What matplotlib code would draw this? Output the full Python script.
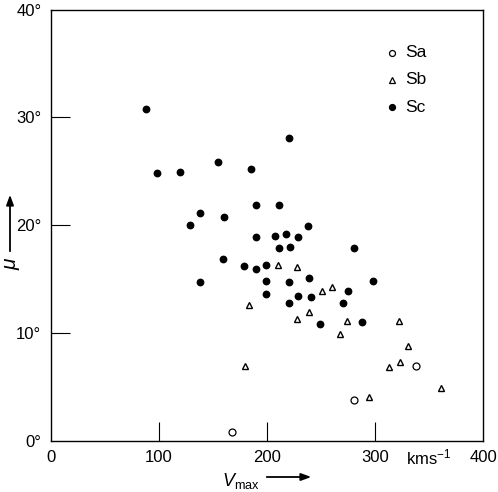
import matplotlib
matplotlib.use("Agg")
import matplotlib.pyplot as plt

plt.rcParams['font.family'] = ['Liberation Sans', 'DejaVu Sans']
plt.rcParams['mathtext.fontset'] = 'custom'
plt.rcParams['mathtext.rm'] = 'Liberation Sans'
plt.rcParams['mathtext.it'] = 'Liberation Sans:italic'

# Sa galaxies
sa_v = [168, 281, 338]
sa_mu = [0.8, 3.8, 6.9]

# Sb galaxies
sb_v = [180, 183, 210, 228, 228, 239, 251, 260, 268, 274, 294, 313, 322, 323, 331, 361]
sb_mu = [6.9, 12.6, 16.3, 16.1, 11.3, 11.9, 13.9, 14.3, 9.9, 11.1, 4.1, 6.8, 11.1, 7.3, 8.8, 4.9]

# Sc galaxies
sc_v = [88, 98, 119, 129, 138, 138, 155, 159, 160, 179, 185, 190, 190, 190,
        199, 199, 199, 207, 211, 211, 218, 220, 220, 220, 221, 229, 229, 238,
        239, 241, 249, 270, 275, 281, 288, 298]
sc_mu = [30.8, 24.8, 24.9, 20.0, 21.1, 14.7, 25.9, 16.9, 20.8, 16.2, 25.2, 21.9, 15.9, 18.9,
         16.3, 14.8, 13.6, 19.0, 21.9, 17.9, 19.2, 28.1, 14.7, 12.8, 18.0, 18.9, 13.4, 19.9,
         15.1, 13.3, 10.8, 12.8, 13.9, 17.9, 11.0, 14.8]

x_ticks = [0, 100, 200, 300, 400]
y_ticks = [0, 10, 20, 30, 40]
y_labels = ['0°', '10°', '20°', '30°', '40°']

fig = plt.figure(figsize=(4.98, 4.92), dpi=100)
ax = fig.add_axes([0.1024, 0.1043, 0.8675, 0.876])

ax.plot(sa_v, sa_mu, 'o', ms=5, mfc='white', mec='black', mew=0.9, ls='none')
ax.plot(sb_v, sb_mu, '^', ms=5, mfc='white', mec='black', mew=1.0, ls='none')
ax.plot(sc_v, sc_mu, 'o', ms=4.6, mfc='black', mec='black', ls='none')

ax.set_xlim(0, 400)
ax.set_ylim(0, 40)
ax.set_xticks(x_ticks)
ax.set_xticklabels([str(t) for t in x_ticks])
ax.set_yticks(y_ticks)
ax.set_yticklabels(y_labels)
ax.tick_params(direction='in', length=14, width=0.8, labelsize=12, pad=7)
# no visible tick marks at the ends
for t in ax.xaxis.get_major_ticks()[::4] + ax.yaxis.get_major_ticks()[::4]:
    t.tick1line.set_visible(False)
for s in ax.spines.values():
    s.set_linewidth(1.0)

# legend drawn by hand, like the original
leg = [('o', 'white', 'Sa'), ('^', 'white', 'Sb'), ('o', 'black', 'Sc')]
for i, (m, fc, lab) in enumerate(leg):
    yy = 0.9 - i * 0.063
    ax.plot([0.789], [yy], m, transform=ax.transAxes, ms=4.3, mfc=fc, mec='black',
            mew=0.9, clip_on=False)
    ax.text(0.82, yy, lab, transform=ax.transAxes, fontsize=12.5, va='center', ha='left')

# units
fig.text(406 / 498, 1 - 457 / 492, 'kms$^{-1}$', fontsize=12,
         va='center', ha='left')

# axis labels with arrows
fig.text(222 / 498, 1 - 481 / 492, r'$V_{\mathrm{max}}$', fontsize=13, ha='left', va='center')
fig.add_artist(matplotlib.patches.FancyArrowPatch(
    (264 / 498, 1 - 477 / 492), (314 / 498, 1 - 477 / 492), transform=fig.transFigure,
    arrowstyle='-|>,head_length=6,head_width=2.2', lw=1.3, color='black'))
fig.text(13 / 498, 1 - 263 / 492, r'$\mu$', fontsize=15, rotation=90, ha='center', va='center')
fig.add_artist(matplotlib.patches.FancyArrowPatch(
    (10 / 498, 1 - 254 / 492), (10 / 498, 1 - 192 / 492), transform=fig.transFigure,
    arrowstyle='-|>,head_length=6,head_width=2.2', lw=1.3, color='black'))

fig.savefig('out.png', dpi=100)
